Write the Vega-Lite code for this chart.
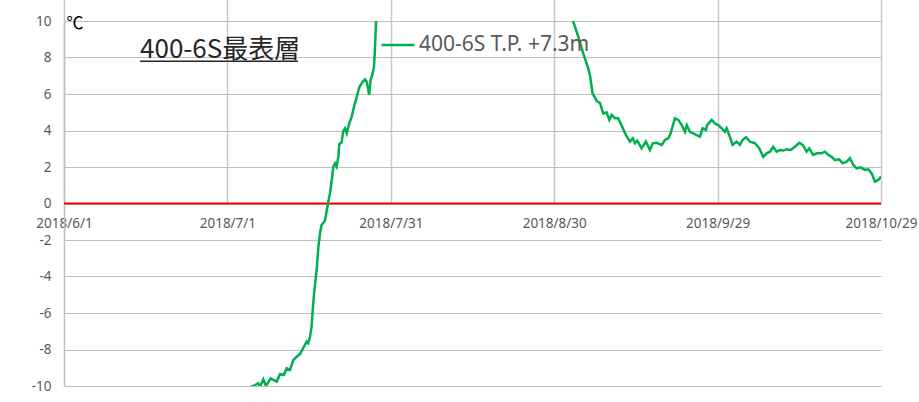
{
  "$schema": "https://vega.github.io/schema/vega-lite/v6.json",
  "width": 817,
  "height": 365,
  "autosize": "none",
  "padding": {"left": 64, "top": 21, "right": 38, "bottom": 16},
  "background": "white",
  "config": {
    "view": {"stroke": null},
    "font": "Noto Sans",
    "axisX": {
      "offset": -182.5,
      "ticks": false,
      "domain": false,
      "grid": true,
      "labelPadding": 13,
      "labelColor": "#595959",
      "labelFontSize": 13.5,
      "labelFont": "Noto Sans",
      "labelFlush": false,
      "labelOverlap": false,
      "gridColor": "#c8c8c8",
      "gridWidth": 1.5
    },
    "axisY": {
      "grid": true,
      "labelOverlap": false,
      "titleAngle": 0,
      "titleAlign": "left",
      "titleBaseline": "alphabetic",
      "titleX": 2,
      "titleY": 7,
      "titleFont": "Noto Sans CJK JP",
      "titleFontSize": 17,
      "titleFontWeight": "normal",
      "titleColor": "#000000",
      "ticks": false,
      "labelPadding": 13,
      "labelColor": "#595959",
      "labelFontSize": 13.5,
      "labelFont": "Noto Sans",
      "domainColor": "#bfbfbf",
      "domainWidth": 1.5,
      "gridColor": "#bfbfbf",
      "gridWidth": 1
    }
  },
  "datasets": {
    "temps": [
      {"date":"2018-07-03T00:00","temp":-10.6},
      {"date":"2018-07-04T19:00","temp":-10.1},
      {"date":"2018-07-06T02:00","temp":-9.95},
      {"date":"2018-07-06T16:00","temp":-9.85},
      {"date":"2018-07-07T00:00","temp":-10.05},
      {"date":"2018-07-07T14:00","temp":-9.63},
      {"date":"2018-07-08T02:00","temp":-10.0},
      {"date":"2018-07-08T23:00","temp":-9.58},
      {"date":"2018-07-10T01:00","temp":-9.76},
      {"date":"2018-07-10T16:00","temp":-9.34},
      {"date":"2018-07-11T09:00","temp":-9.4},
      {"date":"2018-07-11T21:00","temp":-9.03},
      {"date":"2018-07-12T12:00","temp":-9.12},
      {"date":"2018-07-13T02:00","temp":-8.58},
      {"date":"2018-07-13T17:00","temp":-8.4},
      {"date":"2018-07-14T08:00","temp":-8.25},
      {"date":"2018-07-14T22:00","temp":-7.93},
      {"date":"2018-07-15T13:00","temp":-7.57},
      {"date":"2018-07-15T20:00","temp":-7.66},
      {"date":"2018-07-16T04:00","temp":-7.3},
      {"date":"2018-07-16T11:00","temp":-6.75},
      {"date":"2018-07-16T16:00","temp":-5.84},
      {"date":"2018-07-16T22:00","temp":-4.92},
      {"date":"2018-07-17T06:00","temp":-4.0},
      {"date":"2018-07-17T11:00","temp":-3.4},
      {"date":"2018-07-17T17:00","temp":-2.37},
      {"date":"2018-07-18T00:00","temp":-1.63},
      {"date":"2018-07-18T07:00","temp":-1.18},
      {"date":"2018-07-18T22:00","temp":-0.95},
      {"date":"2018-07-19T12:00","temp":0.05},
      {"date":"2018-07-19T20:00","temp":0.56},
      {"date":"2018-07-20T04:00","temp":1.29},
      {"date":"2018-07-20T11:00","temp":2.05},
      {"date":"2018-07-20T18:00","temp":2.2},
      {"date":"2018-07-21T01:00","temp":2.02},
      {"date":"2018-07-21T09:00","temp":2.56},
      {"date":"2018-07-21T13:00","temp":3.25},
      {"date":"2018-07-21T23:00","temp":3.35},
      {"date":"2018-07-22T07:00","temp":3.98},
      {"date":"2018-07-22T14:00","temp":4.12},
      {"date":"2018-07-22T22:00","temp":3.85},
      {"date":"2018-07-23T09:00","temp":4.39},
      {"date":"2018-07-23T20:00","temp":4.76},
      {"date":"2018-07-24T06:00","temp":5.3},
      {"date":"2018-07-24T18:00","temp":5.85},
      {"date":"2018-07-25T05:00","temp":6.37},
      {"date":"2018-07-25T20:00","temp":6.67},
      {"date":"2018-07-26T06:00","temp":6.8},
      {"date":"2018-07-26T14:00","temp":6.67},
      {"date":"2018-07-27T01:00","temp":5.95},
      {"date":"2018-07-27T07:00","temp":6.77},
      {"date":"2018-07-27T16:00","temp":7.13},
      {"date":"2018-07-27T22:00","temp":7.5},
      {"date":"2018-07-28T02:00","temp":8.41},
      {"date":"2018-07-28T07:00","temp":9.96},
      {"date":"2018-07-28T11:00","temp":11.5},
      {"date":"2018-07-30T00:00","temp":14.0},
      {"date":"2018-08-05T00:00","temp":17.0},
      {"date":"2018-08-15T00:00","temp":18.0},
      {"date":"2018-08-25T00:00","temp":15.0},
      {"date":"2018-09-01T12:00","temp":11.2},
      {"date":"2018-09-02T12:00","temp":9.96},
      {"date":"2018-09-03T10:00","temp":9.14},
      {"date":"2018-09-04T08:00","temp":8.23},
      {"date":"2018-09-05T06:00","temp":7.4},
      {"date":"2018-09-05T14:00","temp":7.0},
      {"date":"2018-09-06T01:00","temp":6.04},
      {"date":"2018-09-06T19:00","temp":5.62},
      {"date":"2018-09-07T10:00","temp":5.5},
      {"date":"2018-09-08T00:00","temp":4.94},
      {"date":"2018-09-08T15:00","temp":5.0},
      {"date":"2018-09-09T03:00","temp":4.58},
      {"date":"2018-09-09T13:00","temp":4.85},
      {"date":"2018-09-10T04:00","temp":4.67},
      {"date":"2018-09-10T18:00","temp":4.67},
      {"date":"2018-09-11T09:00","temp":4.27},
      {"date":"2018-09-12T04:00","temp":3.75},
      {"date":"2018-09-12T22:00","temp":3.39},
      {"date":"2018-09-13T10:00","temp":3.57},
      {"date":"2018-09-13T20:00","temp":3.3},
      {"date":"2018-09-14T06:00","temp":3.44},
      {"date":"2018-09-15T01:00","temp":3.02},
      {"date":"2018-09-15T20:00","temp":3.39},
      {"date":"2018-09-16T14:00","temp":2.93},
      {"date":"2018-09-17T02:00","temp":3.3},
      {"date":"2018-09-17T19:00","temp":3.33},
      {"date":"2018-09-18T18:00","temp":3.21},
      {"date":"2018-09-19T08:00","temp":3.48},
      {"date":"2018-09-19T23:00","temp":3.57},
      {"date":"2018-09-20T09:00","temp":3.85},
      {"date":"2018-09-21T04:00","temp":4.67},
      {"date":"2018-09-21T19:00","temp":4.58},
      {"date":"2018-09-22T10:00","temp":4.3},
      {"date":"2018-09-23T00:00","temp":3.93},
      {"date":"2018-09-23T08:00","temp":4.3},
      {"date":"2018-09-23T22:00","temp":3.93},
      {"date":"2018-09-25T04:00","temp":3.75},
      {"date":"2018-09-25T18:00","temp":3.66},
      {"date":"2018-09-26T06:00","temp":4.12},
      {"date":"2018-09-26T21:00","temp":4.03},
      {"date":"2018-09-27T02:00","temp":4.3},
      {"date":"2018-09-27T22:00","temp":4.58},
      {"date":"2018-09-28T12:00","temp":4.39},
      {"date":"2018-09-29T03:00","temp":4.3},
      {"date":"2018-09-29T18:00","temp":4.12},
      {"date":"2018-09-30T08:00","temp":3.93},
      {"date":"2018-09-30T16:00","temp":4.12},
      {"date":"2018-10-01T06:00","temp":3.66},
      {"date":"2018-10-01T18:00","temp":3.21},
      {"date":"2018-10-02T12:00","temp":3.39},
      {"date":"2018-10-03T02:00","temp":3.21},
      {"date":"2018-10-03T14:00","temp":3.48},
      {"date":"2018-10-04T05:00","temp":3.63},
      {"date":"2018-10-04T23:00","temp":3.39},
      {"date":"2018-10-05T21:00","temp":3.3},
      {"date":"2018-10-06T16:00","temp":3.02},
      {"date":"2018-10-07T09:00","temp":2.56},
      {"date":"2018-10-08T00:00","temp":2.75},
      {"date":"2018-10-08T15:00","temp":2.84},
      {"date":"2018-10-09T05:00","temp":3.11},
      {"date":"2018-10-09T20:00","temp":2.84},
      {"date":"2018-10-10T11:00","temp":2.93},
      {"date":"2018-10-11T01:00","temp":2.9},
      {"date":"2018-10-11T16:00","temp":2.97},
      {"date":"2018-10-12T10:00","temp":2.93},
      {"date":"2018-10-13T05:00","temp":3.11},
      {"date":"2018-10-14T00:00","temp":3.33},
      {"date":"2018-10-14T15:00","temp":3.21},
      {"date":"2018-10-15T08:00","temp":2.84},
      {"date":"2018-10-15T20:00","temp":3.02},
      {"date":"2018-10-16T13:00","temp":2.66},
      {"date":"2018-10-17T05:00","temp":2.75},
      {"date":"2018-10-18T02:00","temp":2.75},
      {"date":"2018-10-18T17:00","temp":2.84},
      {"date":"2018-10-19T08:00","temp":2.66},
      {"date":"2018-10-19T23:00","temp":2.56},
      {"date":"2018-10-20T13:00","temp":2.38},
      {"date":"2018-10-21T08:00","temp":2.42},
      {"date":"2018-10-21T23:00","temp":2.2},
      {"date":"2018-10-22T17:00","temp":2.29},
      {"date":"2018-10-23T07:00","temp":2.48},
      {"date":"2018-10-23T22:00","temp":2.11},
      {"date":"2018-10-24T13:00","temp":1.93},
      {"date":"2018-10-25T06:00","temp":1.98},
      {"date":"2018-10-26T01:00","temp":1.84},
      {"date":"2018-10-26T16:00","temp":1.87},
      {"date":"2018-10-27T07:00","temp":1.65},
      {"date":"2018-10-27T21:00","temp":1.19},
      {"date":"2018-10-28T12:00","temp":1.29},
      {"date":"2018-10-29T00:00","temp":1.47}
    ],
    "labels": [
      {"label": "400-6S最表層"}
    ]
  },
  "layer": [
    {
      "data": {"name": "labels"},
      "mark": {"type": "rule", "color": "#ff0000", "strokeWidth": 2},
      "encoding": {
        "y": {
          "datum": 0,
          "type": "quantitative",
          "scale": {"domain": [-10, 10], "nice": false},
          "axis": {
            "values": [-10, -8, -6, -4, -2, 0, 2, 4, 6, 8, 10],
            "labelExpr": "toString(datum.value)",
            "title": "℃",
            "grid": true
          }
        }
      }
    },
    {
      "data": {"name": "temps"},
      "mark": {"type": "line", "clip": true, "strokeWidth": 2.5, "interpolate": "linear"},
      "encoding": {
        "x": {
          "field": "date",
          "type": "temporal",
          "scale": {"domain": [{"year": 2018, "month": 6, "date": 1}, {"year": 2018, "month": 10, "date": 29}]},
          "axis": {
            "values": [
              {"year": 2018, "month": 6, "date": 1},
              {"year": 2018, "month": 7, "date": 1},
              {"year": 2018, "month": 7, "date": 31},
              {"year": 2018, "month": 8, "date": 30},
              {"year": 2018, "month": 9, "date": 29},
              {"year": 2018, "month": 10, "date": 29}
            ],
            "format": "%Y/%-m/%-d",
            "title": null
          }
        },
        "y": {
          "field": "temp",
          "type": "quantitative",
          "scale": {"domain": [-10, 10], "nice": false},
          "axis": {
            "values": [-10, -8, -6, -4, -2, 0, 2, 4, 6, 8, 10],
            "labelExpr": "toString(datum.value)",
            "title": "℃",
            "grid": true
          }
        },
        "color": {
          "datum": "400-6S T.P. +7.3m",
          "type": "nominal",
          "scale": {"range": ["#00b050"]},
          "legend": {
            "orient": "none",
            "legendX": 316,
            "legendY": 6,
            "title": null,
            "symbolType": "stroke",
            "symbolSize": 1089,
            "symbolStrokeWidth": 2.5,
            "labelFontSize": 21,
            "labelFont": "Noto Sans",
            "labelColor": "#595959",
            "labelOffset": 3,
            "labelLimit": 400,
            "padding": 0
          }
        }
      }
    },
    {
      "data": {"name": "labels"},
      "mark": {"type": "text", "font": "Noto Sans CJK JP", "fontSize": 26, "align": "left", "baseline": "alphabetic", "color": "#262626"},
      "encoding": {
        "text": {"field": "label"},
        "x": {
          "datum": {"year": 2018, "month": 6, "date": 14, "hours": 23},
          "type": "temporal",
          "axis": {
            "values": [
              {"year": 2018, "month": 6, "date": 1},
              {"year": 2018, "month": 7, "date": 1},
              {"year": 2018, "month": 7, "date": 31},
              {"year": 2018, "month": 8, "date": 30},
              {"year": 2018, "month": 9, "date": 29},
              {"year": 2018, "month": 10, "date": 29}
            ],
            "format": "%Y/%-m/%-d",
            "title": null
          }
        },
        "y": {
          "datum": 8.0,
          "type": "quantitative",
          "axis": {
            "values": [-10, -8, -6, -4, -2, 0, 2, 4, 6, 8, 10],
            "labelExpr": "toString(datum.value)",
            "title": "℃",
            "grid": true
          }
        }
      }
    },
    {
      "data": {"name": "labels"},
      "mark": {"type": "rule", "color": "#262626", "strokeWidth": 1.5},
      "encoding": {
        "x": {
          "datum": {"year": 2018, "month": 6, "date": 14, "hours": 23},
          "type": "temporal",
          "axis": {
            "values": [
              {"year": 2018, "month": 6, "date": 1},
              {"year": 2018, "month": 7, "date": 1},
              {"year": 2018, "month": 7, "date": 31},
              {"year": 2018, "month": 8, "date": 30},
              {"year": 2018, "month": 9, "date": 29},
              {"year": 2018, "month": 10, "date": 29}
            ],
            "format": "%Y/%-m/%-d",
            "title": null
          }
        },
        "x2": {"datum": {"year": 2018, "month": 7, "date": 13, "hours": 23}},
        "y": {
          "datum": 7.8,
          "type": "quantitative",
          "axis": {
            "values": [-10, -8, -6, -4, -2, 0, 2, 4, 6, 8, 10],
            "labelExpr": "toString(datum.value)",
            "title": "℃",
            "grid": true
          }
        }
      }
    }
  ]
}
